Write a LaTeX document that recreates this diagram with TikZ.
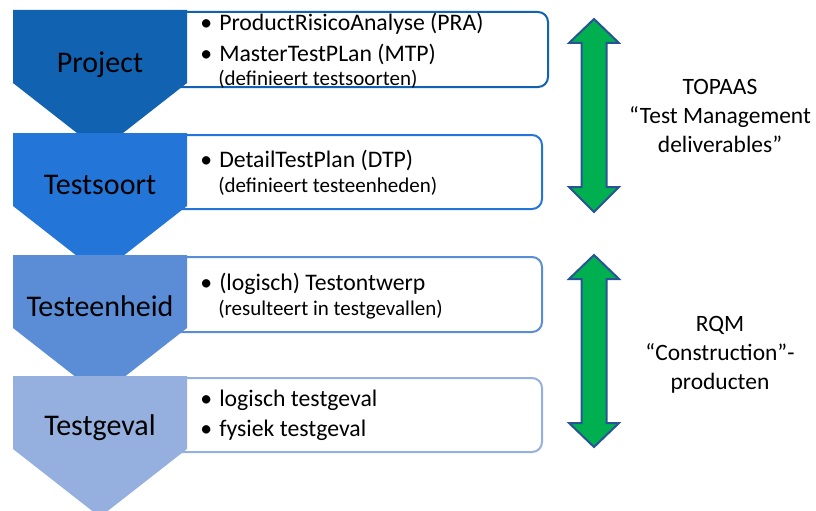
\documentclass[tikz,border=0pt]{standalone}
\usepackage{fontspec}
\setmainfont{Carlito}
\definecolor{cA}{RGB}{17,99,178}
\definecolor{cB}{RGB}{35,118,215}
\definecolor{cC}{RGB}{91,141,215}
\definecolor{cD}{RGB}{149,176,222}
\definecolor{arrowgreen}{RGB}{0,176,80}
\definecolor{arrowblue}{RGB}{40,84,150}
\newcommand\itembullet{\makebox[14.25pt][l]{•}}
\begin{document}
\begin{tikzpicture}[x=0.75pt,y=-0.75pt,
  chev/.style={fill=#1,draw=none},
  listbox/.style={draw=#1,line width=1.5pt,rounded corners=7.5pt},
  lbl/.style={font=\fontsize{22.5}{27}\selectfont,anchor=base,inner sep=0pt},
  itemtxt/.style={font=\fontsize{17.8}{21}\selectfont,anchor=base west,inner sep=0pt},
  notetxt/.style={font=\fontsize{15.75}{19}\selectfont,anchor=base west,inner sep=0pt},
  sidetxt/.style={font=\fontsize{17.6}{21}\selectfont,anchor=base,inner sep=0pt},
  dbl/.style={fill=arrowgreen,draw=arrowblue,line width=1.5pt,line join=miter}]
\useasboundingbox (0,0) rectangle (816,510);
\clip (0,0) rectangle (816,510);
% boxes
\draw[listbox=cA] (180,12) -- (548,12) -- (548,87) -- (180,87);
\draw[listbox=cB] (180,135) -- (542,135) -- (542,209) -- (180,209);
\draw[listbox=cC] (180,257) -- (542,257) -- (542,332) -- (180,332);
\draw[listbox=cD] (180,378) -- (542,378) -- (542,452) -- (180,452);
% chevrons
\foreach \t/\c in {10/cA,133/cB,255/cC,376/cD}
  \fill[chev=\c] (13,\t) -- (187,\t) -- (187,{\t+73}) -- (100,{\t+141}) -- (13,{\t+73}) -- cycle;
\node[lbl] (project) at (100,72) {Project};
\node[lbl] (testsoort) at (100,194) {Testsoort};
\node[lbl] (testeenheid) at (100,316) {Testeenheid};
\node[lbl] (testgeval) at (100,435) {Testgeval};
% box texts
\node[itemtxt] (pra) at (200,31) {\itembullet ProductRisicoAnalyse (PRA)};
\node[itemtxt] (mtp) at (200,61) {\itembullet MasterTestPLan (MTP)};
\node[notetxt] (mtpnote) at (218,85) {(definieert testsoorten)};
\node[itemtxt] (dtp) at (200,167) {\itembullet DetailTestPlan (DTP)};
\node[notetxt] (dtpnote) at (218,192) {(definieert testeenheden)};
\node[itemtxt] (ontw) at (200,290) {\itembullet (logisch) Testontwerp};
\node[notetxt] (ontwnote) at (218,315) {(resulteert in testgevallen)};
\node[itemtxt] (logisch) at (200,406) {\itembullet logisch testgeval};
\node[itemtxt] (fysiek) at (200,436) {\itembullet fysiek testgeval};
% arrows
\draw[dbl] (594,19) -- (619,43) -- (606.5,43) -- (606.5,187) -- (619,187) -- (594,212)
  -- (569,187) -- (581.5,187) -- (581.5,43) -- (569,43) -- cycle;
\draw[dbl] (594,255) -- (619,279) -- (606.5,279) -- (606.5,423) -- (619,423) -- (594,447)
  -- (569,423) -- (581.5,423) -- (581.5,279) -- (569,279) -- cycle;
% side texts
\node[sidetxt] (topaas) at (720,94) {TOPAAS};
\node[sidetxt] (tm) at (720,123) {“Test Management};
\node[sidetxt] (deliv) at (720,152) {deliverables”};
\node[sidetxt] (rqm) at (720,331) {RQM};
\node[sidetxt] (constr) at (720,360) {“Construction”-};
\node[sidetxt] (prod) at (720,389) {producten};
\end{tikzpicture}
\end{document}
